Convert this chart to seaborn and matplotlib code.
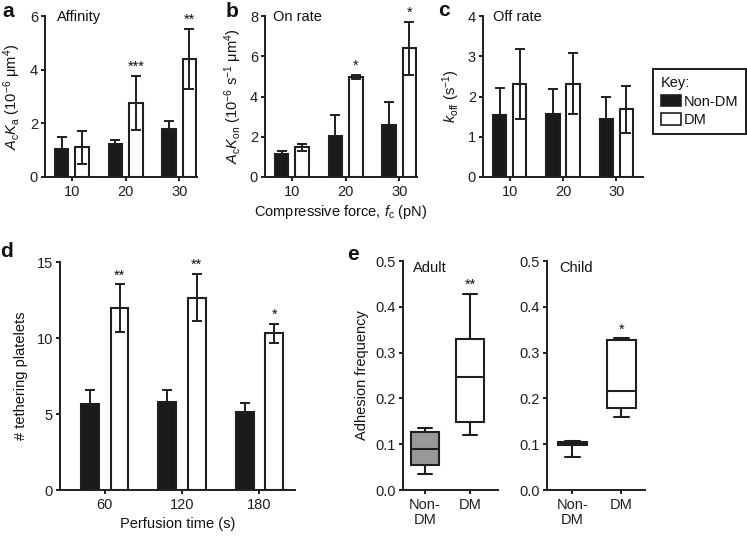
import numpy as np
import pandas as pd
import matplotlib
matplotlib.use("Agg")
import matplotlib.pyplot as plt
from matplotlib.patches import Patch
import seaborn as sns

# ---------------- data ----------------
forces = ["10", "20", "30"]
groups = ["Non-DM", "DM"]

affinity_nondm = [1.06, 1.23, 1.79]
affinity_nondm_err = [0.42, 0.15, 0.30]
affinity_dm = [1.10, 2.76, 4.41]
affinity_dm_err = [0.63, 1.01, 1.12]
affinity_stars = ["", "***", "**"]

onrate_nondm = [1.16, 2.06, 2.60]
onrate_nondm_err = [0.12, 1.01, 1.13]
onrate_dm = [1.48, 4.96, 6.39]
onrate_dm_err = [0.17, 0.11, 1.31]
onrate_stars = ["", "*", "*"]

offrate_nondm = [1.55, 1.57, 1.45]
offrate_nondm_err = [0.67, 0.61, 0.53]
offrate_dm = [2.30, 2.32, 1.68]
offrate_dm_err = [0.87, 0.76, 0.58]

times = ["60", "120", "180"]
tether_nondm = [5.66, 5.80, 5.10]
tether_nondm_err = [0.94, 0.78, 0.65]
tether_dm = [11.95, 12.65, 10.30]
tether_dm_err = [1.57, 1.55, 0.62]
tether_stars = ["**", "**", "*"]

# five-number summaries (min, q1, median, q3, max) for box plots
adult_nondm = [0.034, 0.055, 0.089, 0.127, 0.135]
adult_dm = [0.119, 0.148, 0.247, 0.329, 0.428]
child_nondm = [0.071, 0.099, 0.102, 0.105, 0.106]
child_dm = [0.159, 0.178, 0.217, 0.328, 0.331]
adult_stars = ["", "**"]
child_stars = ["", "*"]

# ---------------- style ----------------
sns.set_style("ticks")
plt.rcParams["font.family"] = ["Liberation Sans", "DejaVu Sans"]
plt.rcParams["mathtext.fontset"] = "custom"
plt.rcParams["mathtext.rm"] = "Liberation Sans"
plt.rcParams["mathtext.it"] = "Liberation Sans:italic"
plt.rcParams["mathtext.bf"] = "Liberation Sans:bold"
FS = 10.5
INK = "#1f1f1f"
plt.rcParams.update({
    "font.size": FS, "axes.labelsize": FS, "xtick.labelsize": FS, "ytick.labelsize": FS,
    "axes.edgecolor": INK, "axes.linewidth": 1.4,
    "xtick.color": INK, "ytick.color": INK,
    "xtick.major.width": 1.4, "ytick.major.width": 1.4,
    "xtick.major.size": 3, "ytick.major.size": 3,
    "xtick.major.pad": 2.5, "ytick.major.pad": 2,
    "text.color": "#111111", "axes.labelcolor": "#111111",
})

W, H = 747, 538
fig = plt.figure(figsize=(W / 100, H / 100), dpi=100)


def add_ax(left, right, top, bottom):
    return fig.add_axes([left / W, (H - bottom) / H, (right - left) / W, (bottom - top) / H])


pal = {"Non-DM": "#1a1a1a", "DM": "white"}


def bar_panel(ax, cats, nondm, nondm_err, dm, dm_err, ylim, yticks, stars=None,
              xlim=(-0.5, 2.33), gap=0.34):
    df = pd.DataFrame({
        "cat": cats * 2,
        "group": ["Non-DM"] * len(cats) + ["DM"] * len(cats),
        "value": list(nondm) + list(dm),
    })
    sns.barplot(data=df, x="cat", y="value", hue="group", order=cats, hue_order=groups,
                palette=pal, saturation=1, edgecolor=INK, linewidth=1.5,
                width=0.76, gap=gap, errorbar=None, legend=False, ax=ax)
    for cont, err, both in zip(ax.containers, [nondm_err, dm_err], [False, True]):
        xs = [b.get_x() + b.get_width() / 2 for b in cont]
        hs = [b.get_height() for b in cont]
        lower = err if both else [0] * len(err)
        ax.errorbar(xs, hs, yerr=[lower, err], fmt="none", ecolor=INK,
                    elinewidth=1.4, capsize=3.3, capthick=1.4, zorder=3)
        if both and stars is not None:
            for x, h, e, s in zip(xs, hs, err, stars):
                if s:
                    ax.annotate(s, xy=(x, h + e), xytext=(0, 1.5), textcoords="offset points",
                                ha="center", va="bottom", fontsize=FS)
    ax.set_ylim(*ylim)
    ax.set_yticks(yticks)
    ax.set_xlim(*xlim)
    ax.set_xlabel("")
    ax.set_ylabel("")
    sns.despine(ax=ax)


# ---- panel a ----
ax_a = add_ax(45, 197, 16, 177)
bar_panel(ax_a, forces, affinity_nondm, affinity_nondm_err, affinity_dm, affinity_dm_err,
          (0, 6), [0, 2, 4, 6], affinity_stars)
ax_a.set_ylabel(r"$A_{\rm c}K_{\rm a}$ (10$^{-6}$ μm$^{4}$)", labelpad=5)
ax_a.text(0.08, 1.04, "Affinity", transform=ax_a.transAxes, va="top", ha="left", fontsize=FS)

# ---- panel b ----
ax_b = add_ax(265, 417, 16, 177)
bar_panel(ax_b, forces, onrate_nondm, onrate_nondm_err, onrate_dm, onrate_dm_err,
          (0, 8), [0, 2, 4, 6, 8], onrate_stars)
ax_b.set_ylabel(r"$A_{\rm c}K_{\rm on}$ (10$^{-6}$ s$^{-1}$ μm$^{4}$)", labelpad=4)
ax_b.set_xlabel(r"Compressive force, $f_{\rm c}$ (pN)", labelpad=3)
ax_b.text(0.05, 1.04, "On rate", transform=ax_b.transAxes, va="top", ha="left", fontsize=FS)

# ---- panel c ----
ax_c = add_ax(483, 643, 16, 177)
bar_panel(ax_c, forces, offrate_nondm, offrate_nondm_err, offrate_dm, offrate_dm_err,
          (0, 4), [0, 1, 2, 3, 4], None, xlim=(-0.5, 2.5))
ax_c.set_ylabel(r"$k_{\rm off}$ (s$^{-1}$)", labelpad=4)
ax_c.text(0.06, 1.04, "Off rate", transform=ax_c.transAxes, va="top", ha="left", fontsize=FS)

# ---- legend ----
handles = [Patch(facecolor=pal[g], edgecolor=INK, linewidth=1.2, label=g) for g in groups]
leg = fig.legend(handles=handles, title="Key:", loc="upper right",
                 bbox_to_anchor=(746 / W, 1 - 69 / H), frameon=True, fancybox=False,
                 edgecolor=INK, framealpha=1, fontsize=FS, title_fontsize=FS,
                 handlelength=1.4, handleheight=0.85, handletextpad=0.2,
                 borderpad=0.5, labelspacing=0.3, alignment="left", borderaxespad=0)
leg.get_frame().set_linewidth(1.4)

# ---- panel d ----
ax_d = add_ax(60, 295, 262, 490)
bar_panel(ax_d, times, tether_nondm, tether_nondm_err, tether_dm, tether_dm_err,
          (0, 15), [0, 5, 10, 15], tether_stars, xlim=(-0.58, 2.46), gap=0.39)
ax_d.set_ylabel("# tethering platelets", labelpad=6)
ax_d.set_xlabel("Perfusion time (s)", labelpad=4)


# ---- panel e ----
def box_panel(ax, nondm, dm, stars, title, width, xlim, tx):
    df = pd.DataFrame({"group": ["Non-DM"] * len(nondm) + ["DM"] * len(dm),
                       "value": list(nondm) + list(dm)})
    sns.boxplot(data=df, x="group", y="value", hue="group", order=groups, hue_order=groups,
                palette={"Non-DM": "#999999", "DM": "white"}, saturation=1,
                linecolor=INK, linewidth=1.5, width=width, whis=(0, 100),
                fliersize=0, legend=False, ax=ax)
    for i, s in enumerate(stars):
        if s:
            ax.annotate(s, xy=(i, max([nondm, dm][i])), xytext=(0, 1.5),
                        textcoords="offset points", ha="center", va="bottom", fontsize=FS)
    ax.set_ylim(0, 0.5)
    ax.set_yticks([0, 0.1, 0.2, 0.3, 0.4, 0.5])
    ax.set_yticklabels([f"{v:.1f}" for v in [0, 0.1, 0.2, 0.3, 0.4, 0.5]])
    ax.set_xlim(*xlim)
    ax.set_xticks([0, 1])
    ax.set_xticklabels(["Non-\nDM", "DM"], va="top", linespacing=1.1)
    ax.set_xlabel("")
    ax.set_ylabel("")
    ax.text(tx, 1.0, title, transform=ax.transAxes, va="top", ha="left", fontsize=FS)
    sns.despine(ax=ax)


ax_e1 = add_ax(403, 498, 261, 490)
box_panel(ax_e1, adult_nondm, adult_dm, adult_stars, "Adult", 0.64, (-0.49, 1.62), 0.1)
ax_e1.set_ylabel("Adhesion frequency", labelpad=5)
ax_e2 = add_ax(547, 645, 261, 490)
box_panel(ax_e2, child_nondm, child_dm, child_stars, "Child", 0.6, (-0.52, 1.48), 0.12)

# ---- panel letters ----
for lab, x, y in [("a", 2, 17), ("b", 226, 17), ("c", 438, 16), ("d", 0, 257), ("e", 347, 260)]:
    fig.text(x / W, 1 - y / H, lab, fontsize=15, fontweight="bold", va="baseline", ha="left",
             color="#111111")

fig.savefig("out.png", dpi=100)
